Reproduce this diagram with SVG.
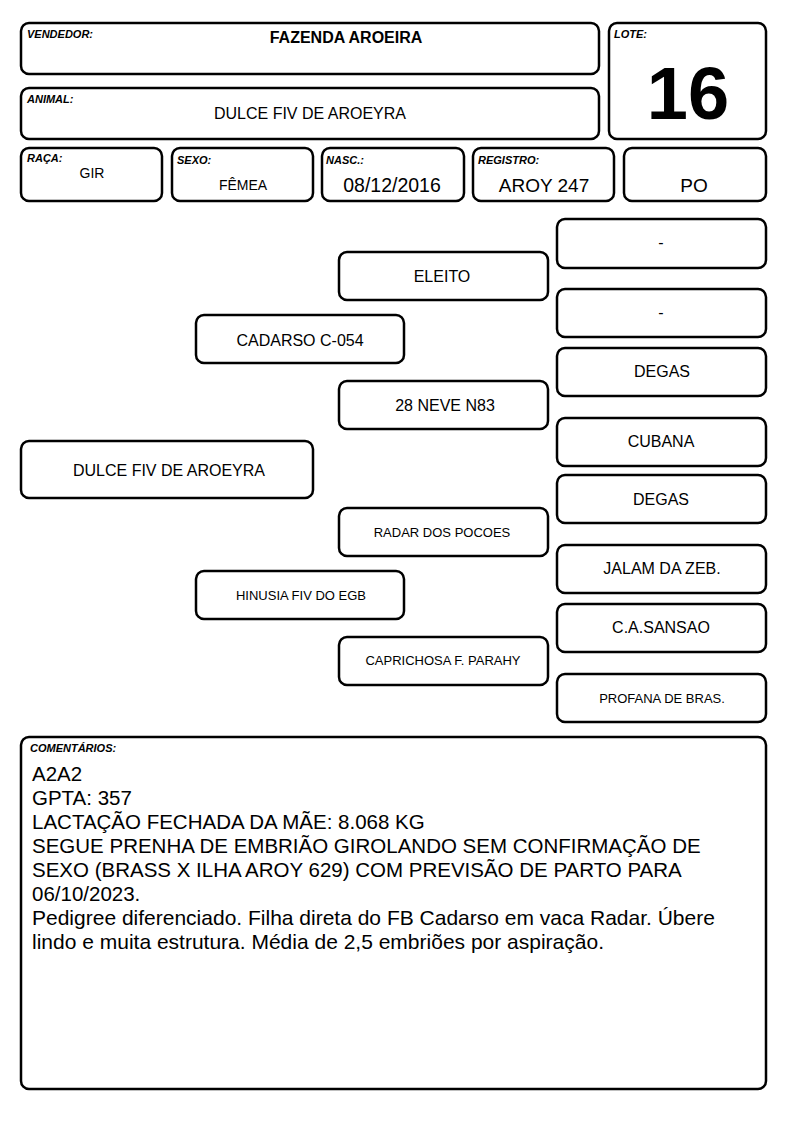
<svg xmlns="http://www.w3.org/2000/svg" width="794" height="1123" viewBox="0 0 794 1123">
<style>
.b{fill:#fff;stroke:#000;stroke-width:2.5}
.lbl{font-family:"Liberation Sans",Arial,sans-serif;font-size:11px;font-weight:bold;font-style:italic;fill:#000}
.t{font-family:"Liberation Sans",Arial,sans-serif;fill:#000;text-anchor:middle}
.p{font-size:16px}
.s{font-size:13px}
.c{font-family:"Liberation Sans",Arial,sans-serif;font-size:20.5px;fill:#000}
.cl{font-size:21px}
</style>
<rect width="794" height="1123" fill="#fff"/>
<g id="vendedor"><rect class="b" x="21" y="23" width="578" height="51" rx="8"/><text class="lbl" x="27" y="38">VENDEDOR:</text><text class="t" x="346" y="43" font-size="16" font-weight="bold">FAZENDA AROEIRA</text></g>
<g id="lote"><rect class="b" x="609" y="23" width="157" height="116" rx="8"/><text class="lbl" x="614" y="38">LOTE:</text><text class="t" x="688" y="119" font-size="74" font-weight="bold">16</text></g>
<g id="animal"><rect class="b" x="21" y="88" width="578" height="51" rx="8"/><text class="lbl" x="27" y="103">ANIMAL:</text><text class="t" x="310" y="119" font-size="16">DULCE FIV DE AROEYRA</text></g>
<g id="raca"><rect class="b" x="21" y="148" width="141" height="53" rx="8"/><text class="lbl" x="27" y="162">RAÇA:</text><text class="t" x="92" y="178" font-size="14">GIR</text></g>
<g id="sexo"><rect class="b" x="172" y="148" width="141" height="53" rx="8"/><text class="lbl" x="177" y="164">SEXO:</text><text class="t" x="243" y="190" font-size="14">FÊMEA</text></g>
<g id="nasc"><rect class="b" x="322" y="148" width="142" height="53" rx="8"/><text class="lbl" x="326" y="164">NASC.:</text><text class="t" x="392" y="192" font-size="19.5">08/12/2016</text></g>
<g id="registro"><rect class="b" x="473" y="148" width="141" height="53" rx="8"/><text class="lbl" x="478" y="164">REGISTRO:</text><text class="t" x="544" y="192" font-size="19">AROY 247</text></g>
<g id="po"><rect class="b" x="624" y="148" width="142" height="53" rx="8"/><text class="t" x="694" y="192" font-size="19">PO</text></g>
<g id="connectors"></g>
<g id="animal-ped"><rect class="b" x="21" y="441" width="292" height="57" rx="8"/><text class="t p" x="169" y="476">DULCE FIV DE AROEYRA</text></g>
<g id="pai"><rect class="b" x="196" y="315" width="208" height="48" rx="8"/><text class="t p" x="300" y="346">CADARSO C-054</text></g>
<g id="mae"><rect class="b" x="196" y="571" width="208" height="48" rx="8"/><text class="t s" x="301" y="600">HINUSIA FIV DO EGB</text></g>
<g id="avo-pp"><rect class="b" x="339" y="252" width="209" height="48" rx="8"/><text class="t p" x="442" y="282">ELEITO</text></g>
<g id="avo-pm"><rect class="b" x="339" y="381" width="209" height="48" rx="8"/><text class="t p" x="445" y="411">28 NEVE N83</text></g>
<g id="avo-mp"><rect class="b" x="339" y="508" width="209" height="48" rx="8"/><text class="t s" x="442" y="537">RADAR DOS POCOES</text></g>
<g id="avo-mm"><rect class="b" x="339" y="637" width="209" height="48" rx="8"/><text class="t s" x="443" y="665">CAPRICHOSA F. PARAHY</text></g>
<g id="bis1"><rect class="b" x="557" y="219" width="209" height="49" rx="8"/><text class="t p" x="661" y="248">-</text></g>
<g id="bis2"><rect class="b" x="557" y="289" width="209" height="48" rx="8"/><text class="t p" x="661" y="318">-</text></g>
<g id="bis3"><rect class="b" x="557" y="348" width="209" height="48" rx="8"/><text class="t p" x="662" y="377">DEGAS</text></g>
<g id="bis4"><rect class="b" x="557" y="418" width="209" height="48" rx="8"/><text class="t p" x="661" y="447">CUBANA</text></g>
<g id="bis5"><rect class="b" x="557" y="475" width="209" height="48" rx="8"/><text class="t p" x="661" y="505">DEGAS</text></g>
<g id="bis6"><rect class="b" x="557" y="545" width="209" height="48" rx="8"/><text class="t p" x="662" y="574">JALAM DA ZEB.</text></g>
<g id="bis7"><rect class="b" x="557" y="604" width="209" height="48" rx="8"/><text class="t p" x="661" y="633">C.A.SANSAO</text></g>
<g id="bis8"><rect class="b" x="557" y="674" width="209" height="48" rx="8"/><text class="t s" x="662" y="703">PROFANA DE BRAS.</text></g>
<g id="comentarios"><rect class="b" x="21" y="737" width="745" height="352" rx="8"/><text class="lbl" x="30" y="752">COMENTÁRIOS:</text>
<text class="c" x="32" y="781">A2A2</text>
<text class="c" x="32" y="805">GPTA: 357</text>
<text class="c" x="32" y="829">LACTAÇÃO FECHADA DA MÃE: 8.068 KG</text>
<text class="c" x="32" y="853">SEGUE PRENHA DE EMBRIÃO GIROLANDO SEM CONFIRMAÇÃO DE</text>
<text class="c" x="32" y="877">SEXO (BRASS X ILHA AROY 629) COM PREVISÃO DE PARTO PARA</text>
<text class="c" x="32" y="901">06/10/2023.</text>
<text class="c cl" x="32" y="925">Pedigree diferenciado. Filha direta do FB Cadarso em vaca Radar. Úbere</text>
<text class="c cl" x="32" y="949">lindo e muita estrutura. Média de 2,5 embriões por aspiração.</text>
</g>
</svg>
